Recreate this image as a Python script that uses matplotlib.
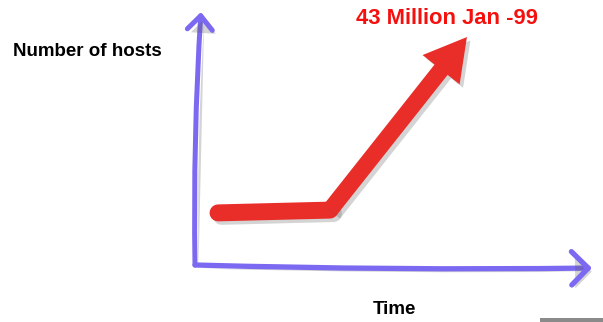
"""
Hand-drawn style growth chart: number of internet hosts over time.
"""
import matplotlib
matplotlib.use('Agg')
import matplotlib.pyplot as plt
import matplotlib.patheffects as pe
from matplotlib.patches import Rectangle

# Curve data (axis units 0..100, no real scale shown)
time = [5.8, 34.0, 68.5]
hosts = [20.6, 21.7, 90.1]

y_label = "Number of hosts"
x_label = "Time"
peak_label = "43 Million Jan -99"

BLUE = '#7b69f2'
RED = '#e92e29'
TEXT_RED = '#f5100e'

plt.rcParams['font.family'] = ['Liberation Sans', 'DejaVu Sans']

fig = plt.figure(figsize=(6.03, 3.22), dpi=100)
fig.patch.set_facecolor('white')

# Plot area: origin sits on the corner of the hand-drawn axes
ax = fig.add_axes([195 / 603, 57 / 322, 397 / 603, 253 / 322])
ax.set_xlim(0, 100)
ax.set_ylim(0, 100)
ax.axis('off')

shadow_line = [pe.SimpleLineShadow(offset=(2.5, -2.5), shadow_color='#555555', alpha=0.25),
               pe.Normal()]
shadow_patch = [pe.SimplePatchShadow(offset=(2.5, -2.5), shadow_rgbFace='#555555', alpha=0.25),
                pe.Normal()]

# Blue axes drawn as arrows
ax.annotate("", xy=(0.015, 1.0), xytext=(0.0, 0.0),
            xycoords='axes fraction', textcoords='axes fraction',
            arrowprops=dict(arrowstyle="->,head_length=0.5,head_width=0.45",
                            mutation_scale=20, lw=3.6, color=BLUE,
                            shrinkA=0, shrinkB=0,
                            connectionstyle="arc3,rad=-0.02",
                            capstyle='round', joinstyle='round',
                            path_effects=shadow_patch))
ax.annotate("", xy=(1.0, -0.012), xytext=(0.0, 0.0),
            xycoords='axes fraction', textcoords='axes fraction',
            arrowprops=dict(arrowstyle="->,head_length=0.6,head_width=0.6",
                            mutation_scale=20, lw=3.8, color=BLUE,
                            shrinkA=0, shrinkB=0,
                            connectionstyle="arc3,rad=0.01",
                            capstyle='round', joinstyle='round',
                            path_effects=shadow_patch))

# Red growth curve: flat stretch, then the steep rise with a head
ax.plot(time[:2], hosts[:2], color=RED, lw=12.2,
        solid_capstyle='round', solid_joinstyle='round',
        path_effects=shadow_line)
ax.annotate("", xy=(time[2], hosts[2]), xytext=(time[1], hosts[1]),
            arrowprops=dict(arrowstyle="simple,tail_width=1.2,head_width=3.4,head_length=3.0",
                            mutation_scale=10, color=RED, lw=0,
                            shrinkA=0, shrinkB=0,
                            path_effects=shadow_patch))

# Labels
fig.text(87 / 603, 1 - 52 / 322, y_label, ha='center', va='center',
         fontsize=13.5, fontweight='bold', color='black')
fig.text(394 / 603, 1 - 310 / 322, x_label, ha='center', va='center',
         fontsize=13.5, fontweight='bold', color='black')
fig.text(447 / 603, 1 - 18 / 322, peak_label, ha='center', va='center',
         fontsize=15.8, fontweight='bold', color=TEXT_RED)

# small gray bar in the bottom-right corner
fig.patches.append(Rectangle((540 / 603, 0), 63 / 603, 4 / 322,
                             transform=fig.transFigure, facecolor='#8a8a8a',
                             edgecolor='none'))

fig.savefig('out.png', dpi=100)
plt.close(fig)
